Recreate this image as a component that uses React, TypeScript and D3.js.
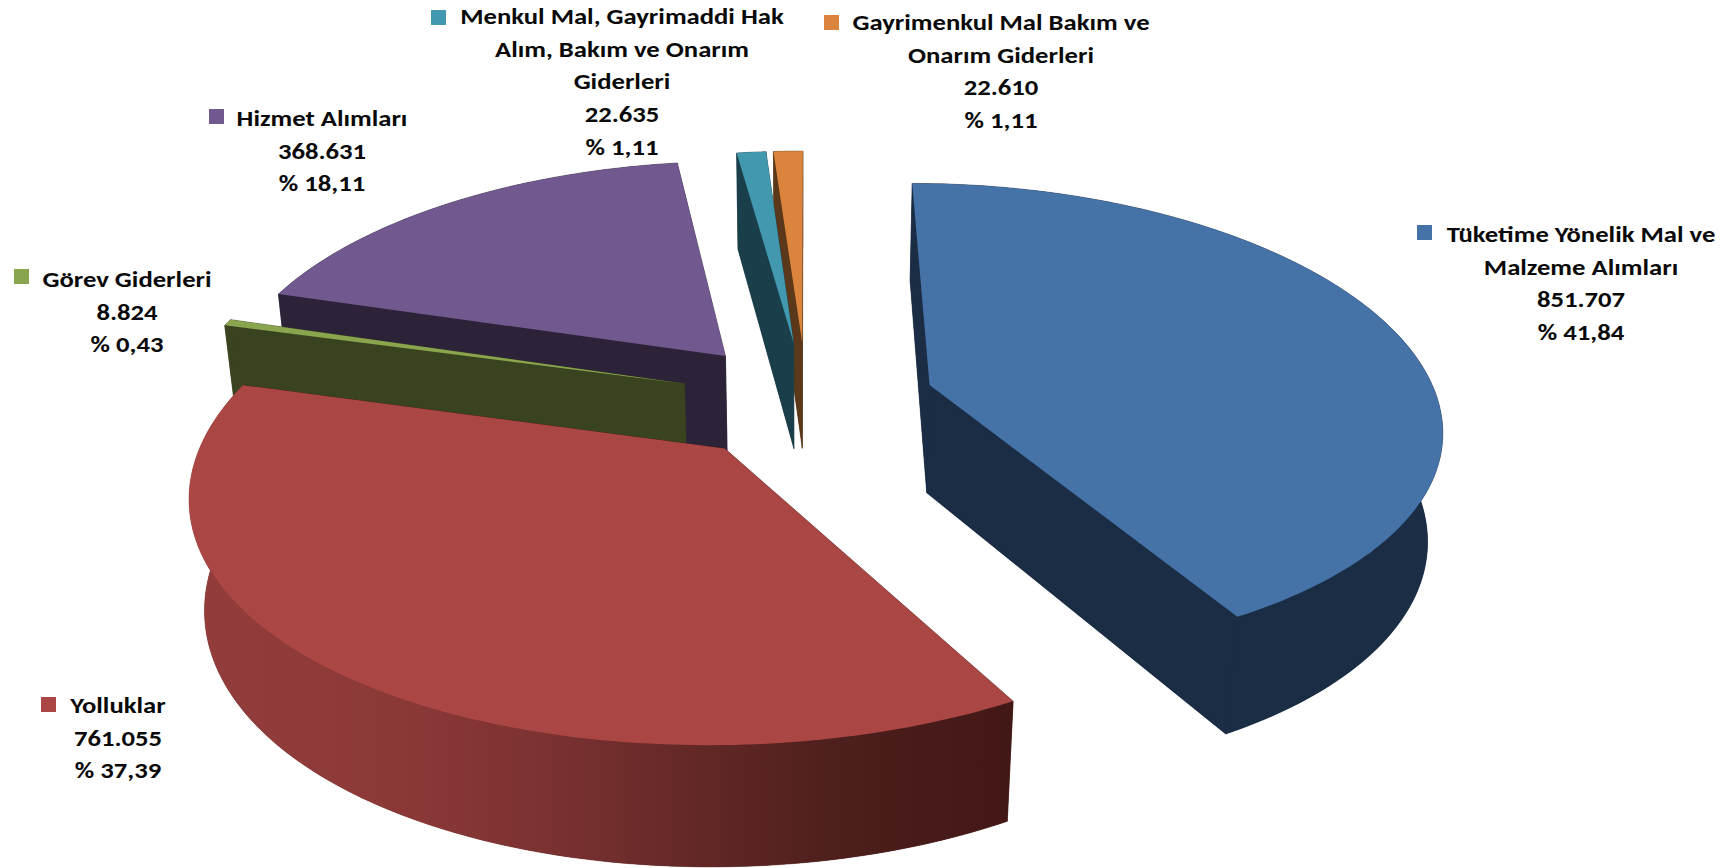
import React from "react";
import * as d3 from "d3";

const names = ["Tüketime Yönelik Mal ve Malzeme Alımları", "Yolluklar", "Görev Giderleri", "Hizmet Alımları", "Menkul Mal, Gayrimaddi Hak Alım, Bakım ve Onarım Giderleri", "Gayrimenkul Mal Bakım ve Onarım Giderleri"];
const values = [851707, 761055, 8824, 368631, 22635, 22610];
const valueLabels = ["851.707", "761.055", "8.824", "368.631", "22.635", "22.610"];
const percentLabels = ["% 41,84", "% 37,39", "% 0,43", "% 18,11", "% 1,11", "% 1,11"];
const topColors = ["#4572A7", "#AA4643", "#89A54E", "#71588F", "#4198AF", "#DB843D"];
const sideColors = ["#1B2D45", "#441A18", "#3A431F", "#2D2339", "#1B3F4A", "#5B3819"];
const nameLines = [
  ["Tüketime Yönelik Mal ve", "Malzeme Alımları"],
  ["Yolluklar"],
  ["Görev Giderleri"],
  ["Hizmet Alımları"],
  ["Menkul Mal, Gayrimaddi Hak", "Alım, Bakım ve Onarım", "Giderleri"],
  ["Gayrimenkul Mal Bakım ve", "Onarım Giderleri"],
];
const labelLayout = [
  { cx: 1581, base: 242, mx: 1417, my: 225 },
  { cx: 118, base: 713, mx: 41, my: 697 },
  { cx: 127, base: 287, mx: 14, my: 269 },
  { cx: 322, base: 126, mx: 209, my: 109 },
  { cx: 622, base: 24, mx: 431, my: 10 },
  { cx: 1001, base: 30, mx: 824, my: 15 },
];
const drawOrder = [5, 4, 0, 3, 2, 1];
const redWallStops = [
  [200, "#933D3B"], [400, "#8B3937"], [560, "#793130"], [700, "#622826"], [850, "#4C1E1C"], [1010, "#421816"],
];

const cx = 806.5, cy = 400, f = 508, g = 236, k = 0.15, kx = 0.165, m = 0.024, h = 111, explode = 0.253;
const textStretch = 1.16;

const project = (X: number, Y: number, z: number): [number, number] => {
  const w = 1 + k * Y + m * z;
  const wx = 1 + kx * Y + m * z;
  return [cx + (f * X) / wx, cy + (-g * Y + h * z) / w];
};

const pie = d3.pie<number>().sort(null).startAngle(0).endAngle(2 * Math.PI);
const line = d3.line<[number, number]>().curve(d3.curveLinear);

function slicePaths(a0: number, a1: number) {
  const mid = (a0 + a1) / 2;
  const ox = explode * Math.sin(mid), oy = explode * Math.cos(mid);
  const n = Math.max(2, Math.ceil(((a1 - a0) * 180) / Math.PI));
  const angles = d3.range(n + 1).map((i) => a0 + ((a1 - a0) * i) / n);
  const rim = (z: number) => angles.map((a) => project(ox + Math.sin(a), oy + Math.cos(a), z));
  const apex = (z: number) => project(ox, oy, z);
  const top = rim(0), bot = rim(1);
  return {
    top: line([apex(0), ...top])! + "Z",
    bottom: line([apex(1), ...bot])! + "Z",
    startFace: line([apex(0), top[0], bot[0], apex(1)])! + "Z",
    endFace: line([apex(0), top[n], bot[n], apex(1)])! + "Z",
    wall: line([...top, ...bot.slice().reverse()])! + "Z",
  };
}

export default function App() {
  const arcs = pie(values);
  const lh = 32.7;
  return (
    <svg width={1735} height={868} style={{ position: "absolute", left: 0, top: 0, background: "#fff" }}>
      <defs>
        <linearGradient id="redWall" gradientUnits="userSpaceOnUse" x1={200} x2={1010} y1={0} y2={0}>
          {redWallStops.map(([x, c]) => (
            <stop key={x as number} offset={((x as number) - 200) / 810} stopColor={c as string} />
          ))}
        </linearGradient>
      </defs>
      {drawOrder.map((i) => {
        const p = slicePaths(arcs[i].startAngle, arcs[i].endAngle);
        const side = sideColors[i];
        const wallFill = i === 1 ? "url(#redWall)" : side;
        return (
          <g key={i}>
            <path d={p.bottom} fill={side} />
            <path d={p.startFace} fill={side} stroke={side} strokeWidth={0.5} />
            <path d={p.endFace} fill={side} stroke={side} strokeWidth={0.5} />
            <path d={p.wall} fill={wallFill} stroke={wallFill} strokeWidth={0.5} />
            <path d={p.top} fill={topColors[i]} />
          </g>
        );
      })}
      {names.map((name, i) => {
        const L = labelLayout[i];
        const lines = [...nameLines[i], valueLabels[i], percentLabels[i]];
        return (
          <g key={name} fontFamily="Carlito, Lato, sans-serif" fontWeight={700} fontSize={23} fill="#0a0a0a">
            <rect x={L.mx} y={L.my} width={15} height={15} fill={topColors[i]} />
            {lines.map((t, j) => (
              <text key={j} transform={`translate(${L.cx},${L.base + j * lh}) scale(${textStretch},1)`} textAnchor="middle">{t}</text>
            ))}
          </g>
        );
      })}
    </svg>
  );
}
